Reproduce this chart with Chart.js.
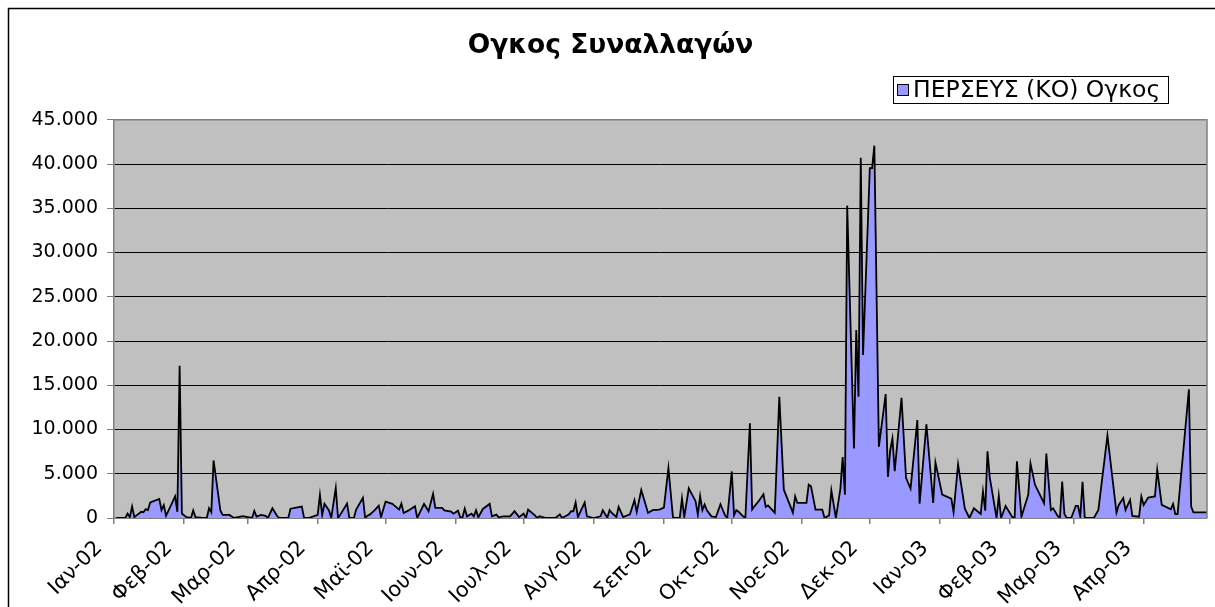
<!DOCTYPE html>
<html><head><meta charset="utf-8">
<script src="https://cdn.jsdelivr.net/npm/chart.js@4/dist/chart.umd.min.js"></script>
<style>
html,body{margin:0;padding:0;background:#fff;overflow:hidden}
canvas{display:block}
</style></head><body>
<canvas id="c" width="1215" height="607"></canvas>
<script>
// Day offsets counted from 1 Jan 2002 (trading days)
const days = [
 1,5,6,7,8,9,12,13,14,15,16,20,21,22,23,27,28,29,30,32,34,35,36,39,41,42,43,44,47,48,51,53,57,59,61,62,63,65,67,68,70,72,73,77,78,83,84,86,90,91,92,93,95,
 96,98,99,100,103,104,106,107,110,111,112,113,115,117,118,120,123,126,127,128,130,133,134,137,139,141,142,145,146,149,150,152,153,154,155,156,158,159,160,161,163,166,167,169,170,172,175,177,179,181,182,183,186,187,
 188,191,195,196,197,198,201,202,203,204,205,208,209,212,215,216,218,219,220,222,223,225,228,230,231,233,236,238,241,243,245,247,248,250,251,252,254,257,258,259,260,261,262,264,266,268,270,271,273,274,275,276,278,279,281,282,
 283,285,287,288,289,292,294,296,300,301,302,306,307,308,310,313,314,316,317,319,321,322,323,324,327,328,329,330,331,334,335,336,338,341,342,343,344,345,348,350,352,355,356,359,362,363,366,370,371,373,376,378,
 380,383,384,385,386,387,390,391,392,394,397,398,399,401,404,405,407,411,412,414,415,417,418,419,420,421,423,425,426,427,428,429,433,435,439,443,444,446,447,449,450,453,454,455,457,460,461,463,467,468,469,470,475,476,477,483
];
const volumes = [
 0,0,500,100,1300,100,700,650,1000,900,1750,2150,900,1450,250,2450,700,17200,500,100,0,850,100,0,0,1100,650,6500,850,350,350,0,200,100,0,800,150,350,250,0,1100,250,0,0,1050,1300,0,0,350,2600,350,1600,850,
 0,3400,0,380,1630,0,0,950,2270,0,260,380,830,1400,110,1860,1600,950,1630,570,830,1330,0,1590,760,2730,1140,1140,870,720,490,830,80,80,1060,190,490,190,870,80,1020,1590,190,380,80,190,190,760,100,490,0,950,300,0,
 190,0,0,190,420,0,420,760,760,1750,110,1750,190,0,190,880,40,880,570,110,1260,110,420,2020,690,3160,570,880,950,1180,5640,110,0,0,2210,110,3350,1900,380,2480,880,1520,880,190,110,1560,300,0,5260,300,880,700,190,0,10700,950,
 1320,1950,2680,1250,1430,600,13700,3200,600,2450,1700,1700,3770,3590,940,940,0,300,3130,0,3320,6900,2640,35300,7850,21250,13700,40700,18420,39550,39550,42080,8040,14000,4640,7660,8980,5280,13590,4530,3320,11060,1620,10600,1700,6260,2640,2190,680,6040,1060,0,
 1100,450,3000,830,7540,4590,0,2500,0,1360,80,80,6400,150,2620,6140,3750,1670,7280,910,1100,230,0,4130,450,0,0,1360,1360,150,4090,0,0,910,9320,610,1480,2240,910,2050,230,150,2430,1480,2310,2430,5460,1480,990,1590,450,450,14550,1290,640,640
];
const monthStartDays = [0,31,59,90,120,151,181,212,243,273,304,334,365,396,424,455];
const monthLabels = ['Ιαν-02','Φεβ-02','Μαρ-02','Απρ-02','Μαϊ-02','Ιουν-02','Ιουλ-02','Αυγ-02','Σεπ-02','Οκτ-02','Νοε-02','Δεκ-02','Ιαν-03','Φεβ-03','Μαρ-03','Απρ-03'];
const yTicks = [0,5000,10000,15000,20000,25000,30000,35000,40000,45000];
const titleText = 'Ογκος Συναλλαγών';
const seriesName = 'ΠΕΡΣΕΥΣ (ΚΟ) Ογκος';

const FONT = "'DejaVu Sans', Verdana, sans-serif";
const fmt = v => String(v).replace(/\B(?=(\d{3})+(?!\d))/g, '.');

const decor = {
  id: 'decor',
  beforeDraw(chart) {
    const {ctx, chartArea: a} = chart;
    ctx.save();
    ctx.fillStyle = '#C0C0C0';
    ctx.fillRect(a.left, a.top, a.right - a.left, a.bottom - a.top);
    ctx.restore();
  },
  afterDraw(chart) {
    const {ctx, chartArea: a} = chart;
    ctx.save();
    ctx.strokeStyle = '#808080';
    ctx.lineWidth = 1.5;
    ctx.beginPath();
    ctx.moveTo(a.left, a.top); ctx.lineTo(a.right, a.top); ctx.lineTo(a.right, a.bottom);
    ctx.stroke();
    ctx.strokeStyle = '#000';
    ctx.lineWidth = 1.5;
    ctx.strokeRect(8.5, 8.5, 1400, 800);
    // legend
    ctx.lineWidth = 1;
    ctx.strokeRect(893.5, 76.5, 275, 27);
    ctx.fillStyle = '#9999FF';
    ctx.fillRect(897.5, 84.5, 11, 11);
    ctx.strokeStyle = '#000';
    ctx.strokeRect(897.5, 84.5, 11, 11);
    ctx.fillStyle = '#000';
    ctx.font = '23.5px ' + FONT;
    ctx.textBaseline = 'middle';
    ctx.textAlign = 'left';
    ctx.fillText(chart.data.datasets[0].label, 913, 91);
    ctx.restore();
  }
};

new Chart(document.getElementById('c'), {
  type: 'line',
  data: {
    datasets: [{
      label: seriesName,
      data: days.map((d, i) => ({x: d, y: volumes[i]})),
      fill: 'origin',
      backgroundColor: '#9999FF',
      borderColor: '#000',
      borderWidth: 1.8,
      pointRadius: 0,
      tension: 0
    }]
  },
  options: {
    responsive: false,
    animation: false,
    events: [],
    layout: {padding: {left: 14, right: 8, top: 0, bottom: 0}},
    plugins: {
      legend: {display: false},
      tooltip: {enabled: false},
      title: {
        display: true, text: titleText, color: '#000',
        font: {family: FONT, size: 26.5, weight: 'bold', lineHeight: 1.2},
        padding: {top: 30, bottom: 58}
      }
    },
    scales: {
      x: {
        type: 'linear', min: 0, max: 483,
        afterBuildTicks: s => { s.ticks = monthStartDays.map(v => ({value: v})); },
        afterFit: s => { s.height = 607 - 518; },
        ticks: {
          autoSkip: false, maxRotation: 45, minRotation: 45,
          callback: v => monthLabels[monthStartDays.indexOf(v)],
          font: {family: FONT, size: 21}, color: '#000', padding: 12, labelOffset: -15
        },
        grid: {drawOnChartArea: false, drawTicks: true, tickLength: 6, color: '#808080', tickColor: '#808080', lineWidth: 1.5},
        border: {display: true, color: '#808080', width: 1.5}
      },
      y: {
        min: 0, max: 45000,
        afterBuildTicks: s => { s.ticks = yTicks.map(v => ({value: v})); },
        afterFit: s => { s.width = 100; },
        ticks: {
          callback: v => fmt(v),
          font: {family: FONT, size: 19}, color: '#000', padding: 9
        },
        grid: {
          color: c => (c.tick && (c.tick.value === 45000 || c.tick.value === 0)) ? '#808080' : '#000',
          lineWidth: 1, drawTicks: true, tickLength: 7, tickColor: '#808080'
        },
        border: {display: true, color: '#808080', width: 1.5}
      }
    }
  },
  plugins: [decor]
});
</script>
</body></html>
